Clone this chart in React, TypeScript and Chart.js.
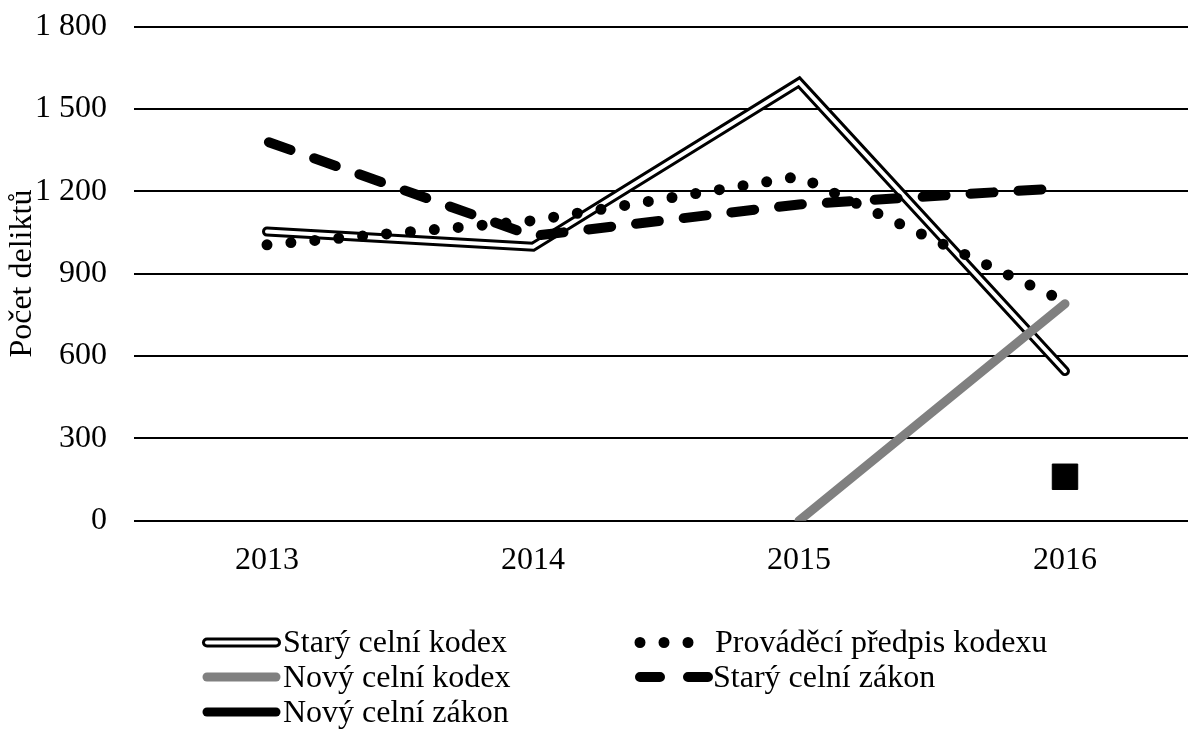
import React, { useEffect, useRef } from 'react';
import { Chart, registerables } from 'chart.js';

Chart.register(...registerables);

const years = ['2013', '2014', '2015', '2016'];
const staryCelniKodex = [1053, 998, 1597, 545];
const provadeciPredpis = [1005, 1093, 1254, 798];
const novyCelniKodex = [null, null, 0, 790];
const staryCelniZakon = [1381, 1037, 1152, 1212];
const novyCelniZakon = [null, null, null, 160];
const yTickLabels = ['0', '300', '600', '900', '1 200', '1 500', '1 800'];
const seriesNames = [
  'Starý celní kodex',
  'Prováděcí předpis kodexu',
  'Nový celní kodex',
  'Starý celní zákon',
  'Nový celní zákon',
];
const yAxisTitle = 'Počet deliktů';

const FONT_FAMILY = '"Liberation Serif", "Times New Roman", serif';
const FONT_SIZE = 32;

const legendPlugin = {
  id: 'customLegend',
  afterDraw(chart: any) {
    const ctx: CanvasRenderingContext2D = chart.ctx;
    ctx.save();
    const seg = (x1: number, x2: number, y: number, color: string, width: number, dash: number[] = []) => {
      ctx.beginPath();
      ctx.setLineDash(dash);
      ctx.lineCap = 'round';
      ctx.strokeStyle = color;
      ctx.lineWidth = width;
      ctx.moveTo(x1, y);
      ctx.lineTo(x2, y);
      ctx.stroke();
    };
    const lineY = [642.5, 677, 712];
    const baseY = [652, 687, 722];
    // column 1
    seg(207, 276, lineY[0], '#000', 10);
    seg(207, 276, lineY[0], '#fff', 4);
    seg(207, 276, lineY[1], '#808080', 9);
    seg(207, 276, lineY[2], '#000', 9);
    // column 2
    seg(640, 690, lineY[0], '#000', 11, [0, 24]);
    seg(640, 708, lineY[1], '#000', 10, [20, 28]);
    ctx.setLineDash([]);
    ctx.font = `${FONT_SIZE}px ${FONT_FAMILY}`;
    ctx.fillStyle = '#000';
    ctx.textAlign = 'left';
    ctx.textBaseline = 'alphabetic';
    ctx.fillText(seriesNames[0], 283, baseY[0]);
    ctx.fillText(seriesNames[2], 283, baseY[1]);
    ctx.fillText(seriesNames[4], 283, baseY[2]);
    ctx.fillText(seriesNames[1], 715, baseY[0]);
    ctx.fillText(seriesNames[3], 713, baseY[1]);
    ctx.restore();
  },
};

export default function App() {
  const canvasRef = useRef<HTMLCanvasElement | null>(null);

  useEffect(() => {
    if (!canvasRef.current) return;
    const chart = new Chart(canvasRef.current, {
      type: 'line',
      data: {
        labels: years,
        datasets: [
          {
            label: seriesNames[0] + ' (inner)',
            data: staryCelniKodex,
            borderColor: '#ffffff',
            borderWidth: 4,
            borderCapStyle: 'round',
            borderJoinStyle: 'miter',
            pointRadius: 0,
            fill: false,
            tension: 0,
            order: 9,
          },
          {
            label: seriesNames[0],
            data: staryCelniKodex,
            borderColor: '#000000',
            borderWidth: 10,
            borderCapStyle: 'round',
            borderJoinStyle: 'miter',
            pointRadius: 0,
            fill: false,
            tension: 0,
            order: 10,
          },
          {
            label: seriesNames[1],
            data: provadeciPredpis,
            borderColor: '#000000',
            borderWidth: 11,
            borderDash: [0, 24],
            borderCapStyle: 'round',
            pointRadius: 0,
            fill: false,
            tension: 0,
            order: 8,
          },
          {
            label: seriesNames[2],
            data: novyCelniKodex,
            borderColor: '#808080',
            borderWidth: 9,
            borderCapStyle: 'round',
            pointRadius: 0,
            fill: false,
            tension: 0,
            order: 7,
          },
          {
            label: seriesNames[3],
            data: staryCelniZakon,
            borderColor: '#000000',
            borderWidth: 10,
            borderDash: [23, 25],
            borderDashOffset: 46,
            borderCapStyle: 'round',
            pointRadius: 0,
            fill: false,
            tension: 0,
            order: 6,
          },
          {
            label: seriesNames[4],
            data: novyCelniZakon,
            borderColor: '#000000',
            backgroundColor: '#000000',
            borderWidth: 1,
            pointStyle: 'rect',
            pointRadius: 18,
            showLine: false,
            fill: false,
            order: 5,
          },
        ] as any,
      },
      options: {
        animation: false,
        responsive: false,
        devicePixelRatio: 1,
        layout: { autoPadding: false, padding: { top: 26.5, left: 0, right: 2, bottom: 0 } },
        plugins: {
          legend: { display: false },
          tooltip: { enabled: false },
        },
        scales: {
          x: {
            type: 'category',
            offset: true,
            grid: { display: false, drawTicks: false },
            border: { display: false },
            ticks: {
              color: '#000',
              font: { family: FONT_FAMILY, size: FONT_SIZE },
              padding: 21,
              maxRotation: 0,
            },
            afterFit: (scale: any) => {
              scale.height = 208.3;
              scale.paddingLeft = 0;
              scale.paddingRight = 0;
            },
          },
          y: {
            min: 0,
            max: 1800,
            grid: { color: '#000', lineWidth: 2, drawTicks: false },
            border: { display: false },
            ticks: {
              stepSize: 300,
              color: '#000',
              font: { family: FONT_FAMILY, size: FONT_SIZE },
              padding: 27,
              callback: (_v: any, i: number) => yTickLabels[i],
            },
            title: {
              display: true,
              text: yAxisTitle,
              color: '#000',
              font: { family: FONT_FAMILY, size: FONT_SIZE },
              padding: { top: 3, bottom: 0 },
            },
            afterFit: (scale: any) => {
              scale.width = 134;
              scale.paddingTop = 0;
              scale.paddingBottom = 0;
            },
          },
        },
      } as any,
      plugins: [legendPlugin],
    });
    return () => chart.destroy();
  }, []);

  return (
    <div
      style={{
        position: 'fixed',
        left: 0,
        top: 0,
        width: 1188,
        height: 729,
        overflow: 'hidden',
        background: '#fff',
      }}
    >
      <canvas ref={canvasRef} width={1200} height={729} style={{ width: 1200, height: 729, display: 'block' }} />
    </div>
  );
}
